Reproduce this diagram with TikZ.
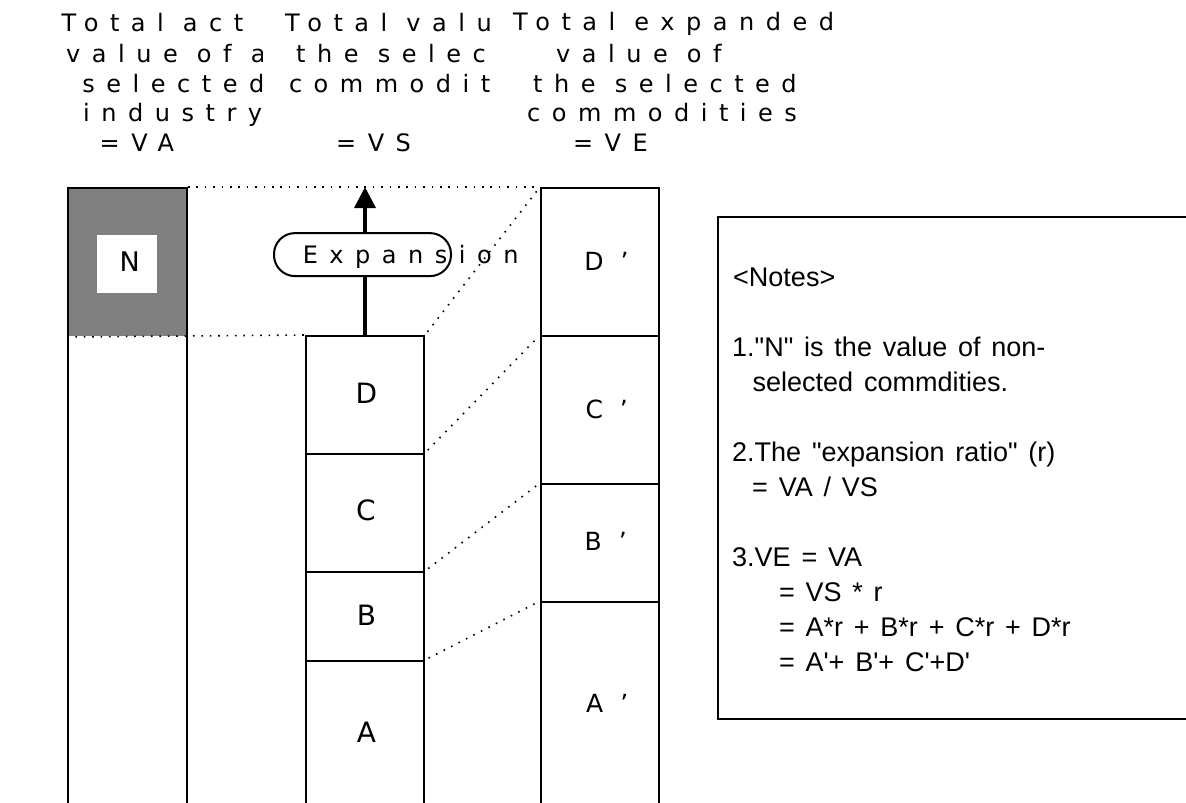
\documentclass[tikz,border=0pt]{standalone}
\usepackage{fontspec}
\setmainfont{Liberation Sans}
\newfontfamily\headfont[LetterSpace=48]{DejaVu Sans}
\newfontfamily\expfont[LetterSpace=48]{DejaVu Sans}
\newfontfamily\primefont[LetterSpace=68]{DejaVu Sans}
\newfontfamily\segfont{DejaVu Sans}
\usetikzlibrary{arrows.meta}
\definecolor{shade}{RGB}{128,128,128}
% wider word spaces for the notes
\newcommand\widespaces{\spaceskip=10.8pt\relax}

\begin{document}
\begin{tikzpicture}[x=1pt,y=-1pt,
  seg/.style={draw, line width=2pt, inner sep=0pt, anchor=north west, minimum width=118pt},
  guide/.style={line width=1.6pt, dash pattern=on 1.6pt off 6.8pt},
  diag/.style={guide, shorten <=4pt, shorten >=3pt},
  head/.style={inner sep=0pt, anchor=base west, font=\headfont\fontsize{24}{28}\selectfont},
  seglabel/.style={inner sep=0pt, font=\segfont\fontsize{28}{32}\selectfont},
  primelabel/.style={inner sep=0pt, anchor=base west, font=\primefont\fontsize{25}{30}\selectfont},
  note/.style={inner sep=0pt, anchor=base west, font=\fontsize{27}{32}\selectfont, execute at begin node=\widespaces}
]
\useasboundingbox (0,0) rectangle (1186,803);

% column headings, each cut off by the box to its right
\begin{scope}
  \clip (0,0) rectangle (262,180);
  \node[head] (ha1) at (61.5,31.7) {Total act};
  \node[head] (ha2) at (66,62) {value of a};
  \node[head] (ha3) at (82.2,92.5) {selected};
  \node[head] (ha4) at (83,121.7) {industry};
  \node[head] (ha5) at (99.5,151.7) {=VA};
\end{scope}
\begin{scope}
  \clip (262,0) rectangle (497,180);
  \node[head] (hs1) at (285,31.7) {Total valu};
  \node[head] (hs2) at (296,62) {the selec};
  \node[head] (hs3) at (288.8,92.5) {commoditi};
  \node[head] (hs5) at (336,151.7) {=VS};
\end{scope}
\node[head] (he1) at (513,30.5) {Total expanded};
\node[head] (he2) at (556,62) {value of};
\node[head] (he3) at (533,92) {the selected};
\node[head] (he4) at (527,121.7) {commodities};
\node[head] (he5) at (572.8,151.7) {=VE};

% left column: total actual value, with the non-selected part shaded
\node[seg, draw=none, fill=shade, minimum width=119pt, minimum height=148pt] (nfill) at (67,187) {};
\node[fill=white, inner sep=0pt, minimum width=60pt, minimum height=58pt] (nbox) at (127,264) {};
\node[inner sep=0pt, font=\segfont\fontsize{27}{32}\selectfont] (nlabel) at (129.7,261.7) {N};
\node[seg, minimum width=119pt, minimum height=640pt] (va) at (67,187) {};

% middle column: selected commodities
\node[seg, minimum height=118pt] (D) at (305,335) {};
\node[seg, minimum height=118pt] (C) at (305,453) {};
\node[seg, minimum height=89pt] (B) at (305,571) {};
\node[seg, minimum height=170pt] (A) at (305,660) {};
\node[seglabel] (Dl) at (366.5,393) {D};
\node[seglabel] (Cl) at (366,510.5) {C};
\node[seglabel] (Bl) at (366.5,615.5) {B};
\node[seglabel] (Al) at (366.5,732) {A};

% right column: expanded commodities
\node[seg, minimum height=148pt] (Dp) at (540,187) {};
\node[seg, minimum height=148pt] (Cp) at (540,335) {};
\node[seg, minimum height=118pt] (Bp) at (540,483) {};
\node[seg, minimum height=230pt] (Ap) at (540,601) {};
\node[primelabel] (Dpl) at (584.2,270) {D’};
\node[primelabel] (Cpl) at (585.3,418.3) {C’};
\node[primelabel] (Bpl) at (584.5,550) {B’};
\node[primelabel] (Apl) at (586,712.7) {A’};

% guide lines between the columns
\draw[guide] (va.north east) -- (Dp.north west);
\draw[guide] (nfill.south west) -- (D.north west);
\draw[diag] (D.north east) -- (Dp.north west);
\draw[diag] (C.north east) -- (Cp.north west);
\draw[diag] (B.north east) -- (Bp.north west);
\draw[diag] (A.north east) -- (Ap.north west);

% expansion arrow
\draw[line width=3.5pt, -{Triangle[width=21pt,length=21pt]}] (D.north) -- (D.north |- Dp.north);
\node[draw, line width=2pt, fill=white, rounded corners=21pt, inner sep=0pt,
      minimum width=177pt, minimum height=43pt] (expbox) at (362.5,254.6) {};
\node[inner sep=0pt, anchor=base west, font=\expfont\fontsize{24}{28}\selectfont] (exptext) at (302.6,263.3) {Expansion};

% notes
\node[draw, line width=1.5pt, inner sep=0pt, anchor=north west,
      minimum width=490pt, minimum height=502pt] (notes) at (717,216) {};
\node[note] (n0) at (733,286.7) {<Notes>};
\node[note] (n1) at (732,356.7) {1.\textquotedbl N\textquotedbl{} is the value of non-};
\node[note] (n2) at (752.5,391.7) {selected commdities.};
\node[note] (n3) at (732,461.7) {2.The \textquotedbl expansion ratio\textquotedbl{} (r)};
\node[note] (n4) at (752,496.7) {= VA / VS};
\node[note] (n5) at (732,566.7) {3.VE = VA};
\node[note] (n6) at (778.8,601.7) {= VS * r};
\node[note] (n7) at (778.8,636.7) {= A*r + B*r + C*r + D*r};
\node[note] (n8) at (778.8,671.7) {= A\textquotesingle+ B\textquotesingle+ C\textquotesingle+D\textquotesingle};
\end{tikzpicture}
\end{document}
